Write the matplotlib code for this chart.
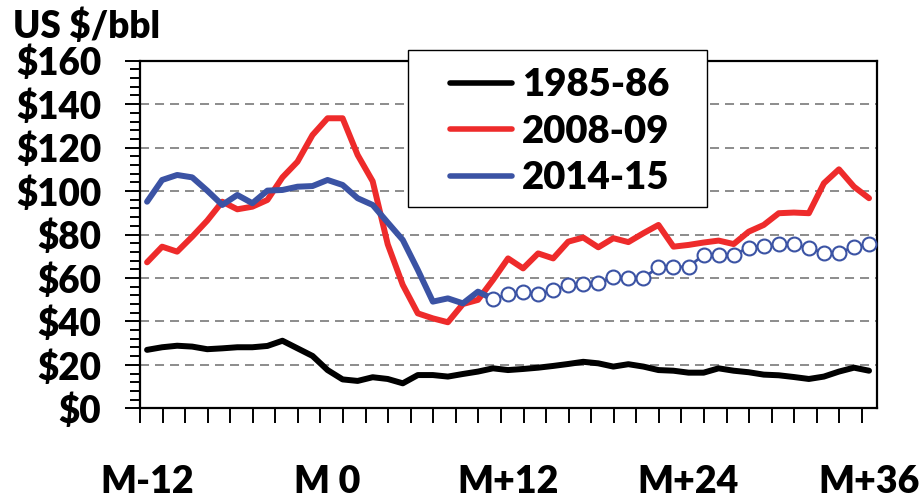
import matplotlib
matplotlib.use('Agg')
import matplotlib.pyplot as plt
from matplotlib.lines import Line2D
from matplotlib.patches import Rectangle
from matplotlib.transforms import blended_transform_factory
import numpy as np

FW = 'heavy'
plt.rcParams['font.family'] = ['Lato', 'DejaVu Sans']
plt.rcParams['font.weight'] = FW
plt.rcParams['lines.scale_dashes'] = False

# ---- data (months relative to M 0, US$/bbl) ----
months = list(range(-12, 37))
s1985 = [26.9, 28.1, 28.8, 28.4, 27.2, 27.6, 28.1, 28.1, 28.7, 31.1, 27.6, 24.1,
         17.6, 13.3, 12.6, 14.3, 13.5, 11.5, 15.3, 15.3, 14.6, 15.8, 16.9, 18.4,
         17.6, 18.1, 18.7, 19.5, 20.4, 21.4, 20.7, 19.2, 20.3, 19.2, 17.6, 17.3,
         16.4, 16.4, 18.4, 17.3, 16.6, 15.5, 15.2, 14.4, 13.5, 14.6, 16.9, 18.7, 17.3]
s2008 = [67.2, 74.4, 72.1, 79.0, 86.4, 95.1, 91.6, 92.8, 95.9, 106.3, 113.5, 125.8,
         133.5, 133.5, 116.6, 104.5, 75.5, 56.8, 43.7, 41.4, 39.6, 48.0, 49.9, 59.1,
         69.0, 64.4, 71.3, 69.0, 76.7, 78.6, 74.1, 78.3, 76.5, 80.6, 84.4, 74.4,
         75.2, 76.3, 77.2, 75.6, 81.3, 84.4, 89.8, 90.1, 89.8, 103.6, 110.0, 102.0, 96.7]
hist_months = list(range(-12, 11))
s2014 = [95.1, 105.1, 107.4, 106.3, 100.2, 93.6, 98.2, 94.4, 100.2, 100.5, 102.0, 102.3,
         105.1, 102.8, 96.7, 93.6, 85.5, 77.5, 63.7, 49.1, 50.6, 48.3, 53.7]
fc_months = list(range(11, 37))
s2014_fc = [50.3, 52.5, 53.5, 52.4, 54.5, 56.6, 57.4, 57.5, 60.3, 60.2, 60.0, 65.0,
            65.1, 65.1, 70.6, 70.6, 70.6, 74.0, 74.7, 75.6, 75.6, 73.6, 71.7, 71.7,
            74.1, 75.6]
series_labels = ['1985-86', '2008-09', '2014-15']
yticks = list(range(0, 161, 20))
ytick_labels = ['\\$' + str(v) for v in yticks]
xlabel_pos = [-12, 0, 12, 24, 36]
xlabel_text = ['M-12', 'M 0', 'M+12', 'M+24', 'M+36']

BLACK = '#000000'
RED = '#EE2B2B'
BLUE = '#3B53A4'

fig = plt.figure(figsize=(9.22, 4.99), dpi=100)
W, H = 922, 499
ax = fig.add_axes([140 / W, 1 - 408.3 / H, 737 / W, (408.3 - 60.7) / H])

lw = 4.3
ax.plot(months, s1985, color=BLACK, lw=lw, solid_joinstyle='round', solid_capstyle='round', zorder=3)
ax.plot(months, s2008, color=RED, lw=lw, solid_joinstyle='round', solid_capstyle='round', zorder=4)
ax.plot(hist_months + fc_months[:1], s2014 + s2014_fc[:1], color=BLUE, lw=lw,
        solid_joinstyle='round', solid_capstyle='round', zorder=5)
ax.plot(fc_months, s2014_fc, color=BLUE, lw=2.0, marker='o', ms=10.0, mfc='white',
        mec=BLUE, mew=1.5, zorder=6)

ax.set_xlim(-12.47, 36.53)
ax.set_ylim(0, 160)
ax.set_xticks(np.arange(-12.47, 36.0, 1.5))
ax.set_xticklabels([])
ax.set_yticks(yticks)
ax.set_yticklabels(ytick_labels, fontsize=26.5, fontweight=FW)
ax.set_yticks(np.arange(0, 161, 4), minor=True)
ax.tick_params(axis='x', direction='out', length=10.8, width=1.4, color='black')
ax.tick_params(axis='y', which='major', direction='out', length=10.8, width=1.4, pad=17)
ax.tick_params(axis='y', which='minor', direction='out', length=7.2, width=1.4)

for s in ax.spines.values():
    s.set_linewidth(1.6)
    s.set_color('black')

for v in yticks[1:-1]:
    ax.axhline(v, color='#6E6E6E', lw=1.1, dashes=(6.5, 4.3), zorder=1)

trans = blended_transform_factory(ax.transData, fig.transFigure)
for xp, t in zip(xlabel_pos, xlabel_text):
    ax.text(xp, 0.0, t, transform=trans, ha='center', va='bottom',
            fontsize=27, fontweight=FW, clip_on=False)

fig.text(13 / W, 1 - 38 / H, 'US \\$/bbl', ha='left', va='baseline', fontsize=26.5, fontweight=FW)

# legend frame (drawn separately so its size matches the reference)
frame = Rectangle((408 / W, 1 - 207 / H), 299 / W, 157 / H, transform=fig.transFigure,
                  facecolor='white', edgecolor='black', lw=1.0, zorder=9)
fig.patches.append(frame)

handles = [Line2D([], [], color=c, lw=4, solid_capstyle='round') for c in (BLACK, RED, BLUE)]
leg = fig.legend(handles, series_labels, loc='upper left', bbox_to_anchor=(450 / W, 1 - 68 / H),
                 fontsize=27.5, frameon=False, handlelength=1.62, handletextpad=0.26,
                 borderpad=0, labelspacing=0.33, borderaxespad=0)
leg.set_zorder(10)
for t in leg.get_texts():
    t.set_fontweight(FW)

fig.savefig('out.png', dpi=100)
